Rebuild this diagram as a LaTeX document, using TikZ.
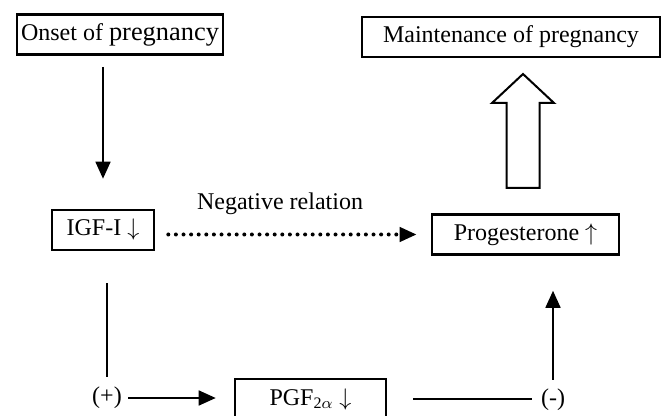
\documentclass[tikz,border=0pt]{standalone}
\usepackage{fontspec}
\setmainfont{Liberation Serif}
\usetikzlibrary{arrows.meta}

\begin{document}
\begin{tikzpicture}[
		x=0.5pt, y=-0.5pt,
		font=\fontsize{12}{14}\selectfont,
		box/.style={rectangle, draw, line width=1.3pt, minimum height=20pt, inner sep=2pt},
		link/.style={line width=0.85pt},
		tip/.style={link, -{Triangle[length=8.5pt, width=7.5pt]}},
		dots/.style={line width=2pt, line cap=round, dash pattern=on 0pt off 3.8pt, -{Triangle[length=8.5pt, width=7pt]}},
		sign/.style={inner sep=0pt},
		hollow/.style={draw, line width=1pt, line join=miter}
	]
  \useasboundingbox (0, 0) rectangle (663, 416);
  \node (onset) [box, minimum width=103pt] at (120, 34.5) {Onset of {\fontsize{13.2}{14}\selectfont pregnancy}};
  \node (maint) [box, minimum width=149pt] at (511, 37) {Maintenance of pregnancy};
  \node (igf) [box, minimum width=51pt] at (103, 230) {IGF-I $\downarrow$};
  \node (prog) [box, minimum width=93.5pt] at (525.5, 234.5) {Progesterone $\uparrow$};
  \node (pgf) [box, minimum width=75.5pt] at (310.5, 399) {PGF\textsubscript{2$\alpha$} $\downarrow$};
  \node (plus) [sign] at (107, 398) {(+)};
  \node (minus) [sign] at (553, 400) {(-)};
  \node (neg) at (280, 204) {Negative relation};
  \coordinate (up_foot) at (523, 188);
  \coordinate (up_tip) at (523, 74);
  \draw [tip, shorten <=5.5pt, shorten >=15pt] (onset.south -| igf) -- (igf.north);
  \draw [dots, shorten <=6.5pt, shorten >=7pt] (igf.east |- prog) -- (prog.west);
  \draw [link, shorten <=5pt, shorten >=16pt] (plus.north) -- (plus.north |- igf.south);
  \draw [tip, shorten <=3pt, shorten >=9pt] (plus.east) -- (plus.east -| pgf.west);
  \draw [link, shorten <=13pt, shorten >=4.5pt] (pgf.east) -- (pgf.east -| minus.west);
  \draw [tip, shorten <=4.5pt, shorten >=17.5pt] (minus.north) -- (minus.north |- prog.south);
  \draw [hollow] ([xshift=-8.25pt]up_foot) -- ++(0, -85) -- ++(-14.5, 0) -- (up_tip)
    -- ++(31, 29) -- ++(-14.5, 0) -- ([xshift=8.25pt]up_foot) -- cycle;
\end{tikzpicture}
\end{document}
